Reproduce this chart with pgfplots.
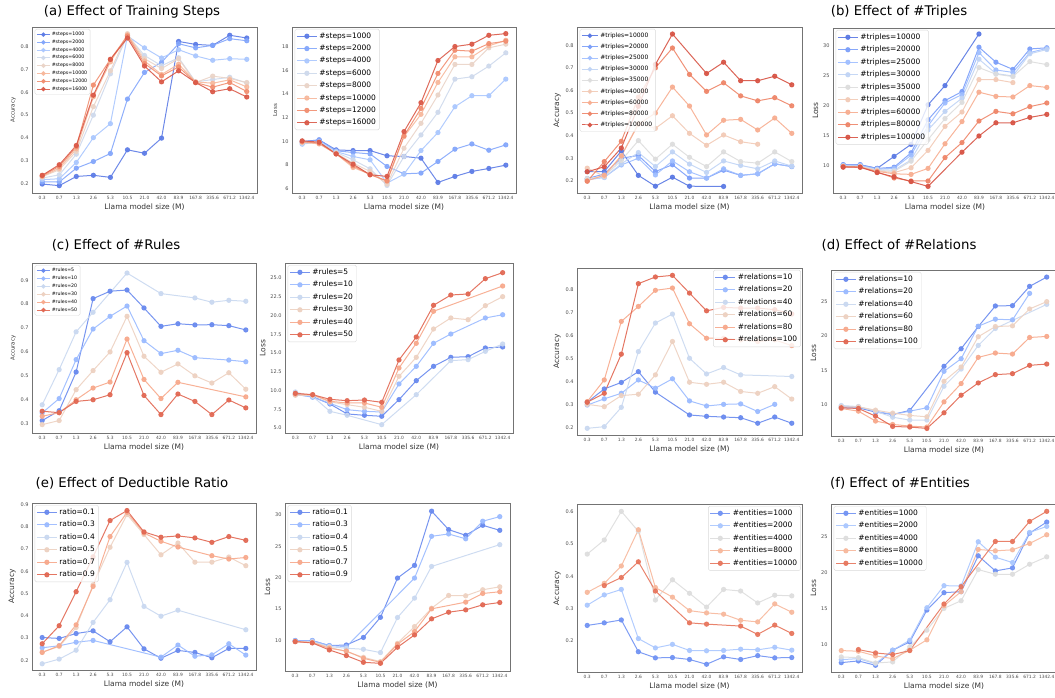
\documentclass[border=0pt]{standalone}
\usepackage{fontspec}
\setmainfont{DejaVu Sans}
\usepackage{pgfplots}
\pgfplotsset{compat=1.18}
% coolwarm samples
\definecolor{ea}{RGB}{93,124,230}
\definecolor{eb}{RGB}{131,166,251}
\definecolor{ec}{RGB}{170,199,254}
\definecolor{ed}{RGB}{206,217,236}
\definecolor{ee}{RGB}{234,212,200}
\definecolor{ef}{RGB}{247,184,156}
\definecolor{eg}{RGB}{241,142,112}
\definecolor{eh}{RGB}{218,89,72}
\definecolor{na}{RGB}{89,120,227}
\definecolor{nb}{RGB}{123,158,249}
\definecolor{nc}{RGB}{159,190,255}
\definecolor{nd}{RGB}{192,212,245}
\definecolor{ne}{RGB}{221,221,221}
\definecolor{nf}{RGB}{242,202,182}
\definecolor{ng}{RGB}{247,173,144}
\definecolor{nh}{RGB}{238,133,104}
\definecolor{ni}{RGB}{215,83,68}
\definecolor{sa}{RGB}{104,137,238}
\definecolor{sb}{RGB}{154,186,255}
\definecolor{sc}{RGB}{201,216,240}
\definecolor{sd}{RGB}{237,209,193}
\definecolor{se}{RGB}{247,168,139}
\definecolor{sf}{RGB}{225,103,82}
\definecolor{fa}{RGB}{112,146,243}
\definecolor{fb}{RGB}{170,199,254}
\definecolor{fc}{RGB}{221,221,221}
\definecolor{fd}{RGB}{247,184,156}
\definecolor{fe}{RGB}{231,117,92}
\pgfplotsset{
  panel/.style={
    scale only axis, anchor=south west,
    xmin=-0.6, xmax=12.6,
    xtick={0,1,...,12},
    xticklabels={0.3,0.7,1.3,2.6,5.3,10.5,21.0,42.0,83.9,167.8,335.6,671.2,1342.4},
    x tick label style={font=\fontsize{4.4}{5}\selectfont, text=black!70},
    y tick label style={font=\fontsize{5}{6}\selectfont, text=black!70},
    /pgf/number format/assume math mode=true,
    major tick length=0pt,
    axis line style={black!55, line width=0.5pt},
    xlabel={Llama model size (M)},
    xlabel style={font=\fontsize{7.5}{9}\selectfont, text=black!80, yshift=3pt},
    ylabel style={text=black!80, yshift=-2pt},
    legend cell align=left,
    legend style={draw=black!15, rounded corners=1.5pt, fill=white, fill opacity=0.8, text opacity=1, inner sep=1.5pt},
    every axis plot/.append style={line width=1pt, mark=*, mark size=2.1pt, mark options={solid}, opacity=0.9},
  },
  acc/.style={ylabel={Accuracy}, yticklabel style={/pgf/number format/fixed, /pgf/number format/fixed zerofill, /pgf/number format/precision=1}},
  loss/.style={ylabel={Loss}},
  bigleg/.style={legend style={font=\fontsize{7.5}{8.8}\selectfont, row sep=1.3pt, nodes={inner sep=2pt}},
    legend image code/.code={\draw[mark repeat=2,mark phase=2,##1] plot coordinates {(0pt,0pt) (10pt,0pt) (20pt,0pt)};}},
  smallleg/.style={legend style={font=\fontsize{4.7}{5.4}\selectfont, row sep=0pt, nodes={inner sep=1.4pt}},
    legend image code/.code={\draw[mark repeat=2,mark phase=2,##1,mark size=1.7pt] plot coordinates {(0pt,0pt) (6.5pt,0pt) (13pt,0pt)};}},
  midleg/.style={legend style={font=\fontsize{6}{7}\selectfont, row sep=1.1pt, nodes={inner sep=2pt}},
    legend image code/.code={\draw[mark repeat=2,mark phase=2,##1,mark size=1.8pt] plot coordinates {(0pt,0pt) (8pt,0pt) (16pt,0pt)};}},
  ul/.style={legend style={at={(0.012,0.988)}, anchor=north west}},
  ur/.style={legend style={at={(0.995,0.988)}, anchor=north east}},
  ylsmall/.style={ylabel style={font=\fontsize{5.5}{6.5}\selectfont}},
  ylbig/.style={ylabel style={font=\fontsize{7.5}{9}\selectfont}},
}
\begin{document}
\begin{tikzpicture}
\useasboundingbox (0pt,0pt) rectangle (1055pt,698pt);
% titles
\node[font=\fontsize{13.3}{15}\selectfont] at (132pt,686pt) {(a) Effect of Training Steps};
\node[font=\fontsize{13.3}{15}\selectfont] at (899pt,686pt) {(b) Effect of \#Triples};
\node[font=\fontsize{13.3}{15}\selectfont] at (116pt,453pt) {(c) Effect of \#Rules};
\node[font=\fontsize{13.3}{15}\selectfont] at (899pt,453pt) {(d) Effect of \#Relations};
\node[font=\fontsize{13.3}{15}\selectfont] at (132pt,215pt) {(e) Effect of Deductible Ratio};
\node[font=\fontsize{13.3}{15}\selectfont] at (900pt,215pt) {(f) Effect of \#Entities};

% ---------------- (a) accuracy
\begin{axis}[panel, acc, ylsmall, smallleg, ul, at={(32pt,505pt)}, width=225pt, height=166pt,
  ymin=0.161, ymax=0.884, ytick={0.2,0.3,...,0.81}]
\addplot[ea] coordinates {(0,0.200)(1,0.193)(2,0.233)(3,0.238)(4,0.229)(5,0.349)(6,0.334)(7,0.400)(8,0.821)(9,0.808)(10,0.804)(11,0.848)(12,0.836)};
\addlegendentry{\#steps=1000}
\addplot[eb] coordinates {(0,0.209)(1,0.209)(2,0.269)(3,0.298)(4,0.333)(5,0.570)(6,0.686)(7,0.730)(8,0.811)(9,0.793)(10,0.804)(11,0.833)(12,0.824)};
\addlegendentry{\#steps=2000}
\addplot[ec] coordinates {(0,0.219)(1,0.223)(2,0.294)(3,0.402)(4,0.463)(5,0.845)(6,0.793)(7,0.749)(8,0.785)(9,0.758)(10,0.739)(11,0.746)(12,0.743)};
\addlegendentry{\#steps=4000}
\addplot[ed] coordinates {(0,0.226)(1,0.240)(2,0.330)(3,0.500)(4,0.680)(5,0.847)(6,0.760)(7,0.715)(8,0.750)(9,0.645)(10,0.655)(11,0.665)(12,0.640)};
\addlegendentry{\#steps=6000}
\addplot[ee] coordinates {(0,0.232)(1,0.262)(2,0.342)(3,0.537)(4,0.693)(5,0.855)(6,0.746)(7,0.703)(8,0.746)(9,0.642)(10,0.670)(11,0.660)(12,0.642)};
\addlegendentry{\#steps=8000}
\addplot[ef] coordinates {(0,0.233)(1,0.269)(2,0.353)(3,0.580)(4,0.732)(5,0.850)(6,0.736)(7,0.677)(8,0.722)(9,0.645)(10,0.639)(11,0.654)(12,0.623)};
\addlegendentry{\#steps=10000}
\addplot[eg] coordinates {(0,0.236)(1,0.277)(2,0.362)(3,0.631)(4,0.743)(5,0.845)(6,0.725)(7,0.671)(8,0.710)(9,0.642)(10,0.622)(11,0.642)(12,0.603)};
\addlegendentry{\#steps=12000}
\addplot[eh] coordinates {(0,0.238)(1,0.284)(2,0.368)(3,0.587)(4,0.743)(5,0.836)(6,0.714)(7,0.645)(8,0.693)(9,0.642)(10,0.602)(11,0.615)(12,0.579)};
\addlegendentry{\#steps=16000}
\end{axis}

% ---------------- (a) loss
\begin{axis}[panel, loss, ylsmall, bigleg, ul, at={(292pt,505pt)}, width=224pt, height=166pt,
  ymin=5.64, ymax=19.65, ytick={6,8,...,18}]
\addplot[ea] coordinates {(0,9.98)(1,10.12)(2,9.28)(3,9.22)(4,9.22)(5,8.78)(6,8.72)(7,8.58)(8,6.53)(9,7.04)(10,7.46)(11,7.71)(12,7.99)};
\addlegendentry{\#steps=1000}
\addplot[eb] coordinates {(0,9.93)(1,10.12)(2,9.20)(3,9.06)(4,8.94)(5,7.88)(6,7.26)(7,7.32)(8,8.30)(9,9.34)(10,9.78)(11,9.25)(12,9.70)};
\addlegendentry{\#steps=2000}
\addplot[ec] coordinates {(0,9.76)(1,9.98)(2,9.14)(3,8.72)(4,8.44)(5,6.48)(6,7.23)(7,9.22)(8,10.74)(9,12.92)(10,13.85)(11,13.85)(12,15.25)};
\addlegendentry{\#steps=4000}
\addplot[ed] coordinates {(0,9.84)(1,9.93)(2,9.08)(3,8.44)(4,7.68)(5,6.28)(6,8.72)(7,10.54)(8,12.45)(9,15.25)(10,15.45)(11,16.35)(12,17.47)};
\addlegendentry{\#steps=6000}
\addplot[ee] coordinates {(0,9.90)(1,9.85)(2,9.00)(3,8.16)(4,7.46)(5,6.39)(6,9.42)(7,11.52)(8,13.91)(9,16.49)(10,16.49)(11,17.89)(12,18.20)};
\addlegendentry{\#steps=8000}
\addplot[ef] coordinates {(0,9.93)(1,9.78)(2,8.94)(3,7.79)(4,7.23)(5,6.62)(6,10.40)(7,12.28)(8,14.97)(9,17.13)(10,17.13)(11,18.06)(12,18.53)};
\addlegendentry{\#steps=10000}
\addplot[eg] coordinates {(0,9.98)(1,9.85)(2,8.94)(3,7.93)(4,7.18)(5,6.67)(6,10.46)(7,12.78)(8,15.73)(9,17.69)(10,17.61)(11,18.25)(12,18.45)};
\addlegendentry{\#steps=12000}
\addplot[eh] coordinates {(0,10.04)(1,9.93)(2,8.94)(3,8.07)(4,7.18)(5,7.04)(6,10.82)(7,13.26)(8,16.82)(9,18.00)(10,18.20)(11,18.95)(12,19.09)};
\addlegendentry{\#steps=16000}
\end{axis}

% ---------------- (b) accuracy
\begin{axis}[panel, acc, ylbig, midleg, ul, at={(577pt,505pt)}, width=225pt, height=166pt,
  ymin=0.146, ymax=0.881, ytick={0.2,0.3,...,0.81}]
\addplot[na] coordinates {(0,0.241)(1,0.241)(2,0.332)(3,0.224)(4,0.176)(5,0.216)(6,0.176)(8,0.175)};
\addlegendentry{\#triples=10000}
\addplot[nb] coordinates {(0,0.210)(1,0.230)(2,0.300)(3,0.312)(4,0.241)(5,0.271)(6,0.212)(7,0.212)(8,0.247)(9,0.224)(10,0.231)(11,0.275)(12,0.263)};
\addlegendentry{\#triples=20000}
\addplot[nc] coordinates {(0,0.205)(1,0.215)(2,0.270)(3,0.300)(4,0.226)(5,0.288)(6,0.240)(7,0.212)(8,0.253)(9,0.224)(10,0.231)(11,0.275)(12,0.263)};
\addlegendentry{\#triples=25000}
\addplot[nd] coordinates {(0,0.205)(1,0.215)(2,0.275)(3,0.325)(4,0.263)(5,0.328)(6,0.274)(7,0.237)(8,0.288)(9,0.268)(10,0.253)(11,0.288)(12,0.265)};
\addlegendentry{\#triples=30000}
\addplot[ne] coordinates {(0,0.210)(1,0.220)(2,0.290)(3,0.378)(4,0.296)(5,0.362)(6,0.304)(7,0.263)(8,0.328)(9,0.285)(10,0.278)(11,0.328)(12,0.285)};
\addlegendentry{\#triples=35000}
\addplot[nf] coordinates {(0,0.256)(1,0.220)(2,0.310)(3,0.455)(4,0.432)(5,0.488)(6,0.410)(7,0.357)(8,0.403)(9,0.373)(10,0.362)};
\addlegendentry{\#triples=40000}
\addplot[ng] coordinates {(0,0.200)(1,0.225)(2,0.310)(3,0.450)(4,0.500)(5,0.615)(6,0.531)(7,0.403)(8,0.468)(9,0.472)(10,0.425)(11,0.478)(12,0.410)};
\addlegendentry{\#triples=60000}
\addplot[nh] coordinates {(0,0.198)(1,0.285)(2,0.375)(3,0.570)(4,0.700)(5,0.788)(6,0.671)(7,0.596)(8,0.634)(9,0.576)(10,0.554)(11,0.568)(12,0.532)};
\addlegendentry{\#triples=80000}
\addplot[ni] coordinates {(0,0.240)(1,0.262)(2,0.345)(3,0.530)(4,0.715)(5,0.850)(7,0.675)(8,0.725)(9,0.643)(10,0.643)(11,0.663)(12,0.625)};
\addlegendentry{\#triples=100000}
\end{axis}

% ---------------- (b) loss
\begin{axis}[panel, loss, ylbig, bigleg, ul, at={(833pt,505pt)}, width=224pt, height=165pt,
  ymin=5.5, ymax=33.0, ytick={10,15,...,30}]
\addplot[na] coordinates {(0,10.2)(1,10.2)(2,9.6)(3,11.6)(4,13.6)(5,20.2)(6,23.4)(8,32.0)};
\addlegendentry{\#triples=10000}
\addplot[nb] coordinates {(0,10.2)(1,10.2)(2,9.6)(3,9.8)(4,12.2)(5,17.7)(6,20.9)(7,22.4)(8,29.8)(9,27.3)(10,26.1)(11,29.5)(12,29.7)};
\addlegendentry{\#triples=20000}
\addplot[nc] coordinates {(0,10.1)(1,10.1)(2,9.5)(3,9.6)(4,11.8)(5,16.7)(6,20.5)(7,21.9)(8,28.9)(9,26.0)(10,25.6)(11,28.9)(12,29.6)};
\addlegendentry{\#triples=25000}
\addplot[nd] coordinates {(0,10.0)(1,10.0)(2,9.4)(3,9.3)(4,11.0)(5,16.0)(6,19.1)(7,21.3)(8,27.8)(9,25.4)(10,25.0)(11,28.7)(12,29.4)};
\addlegendentry{\#triples=30000}
\addplot[ne] coordinates {(0,10.0)(1,9.9)(2,9.3)(3,9.1)(4,10.8)(5,14.4)(6,17.9)(7,20.6)(8,26.4)(9,25.3)(10,24.9)(11,27.4)(12,26.9)};
\addlegendentry{\#triples=35000}
\addplot[nf] coordinates {(0,9.9)(1,9.9)(2,9.2)(3,8.9)(4,9.7)(5,12.6)(6,16.6)(7,19.0)(8,24.4)(9,24.4)(10,23.9)};
\addlegendentry{\#triples=40000}
\addplot[ng] coordinates {(0,9.9)(1,9.8)(2,9.1)(3,8.7)(4,8.6)(5,9.6)(6,13.7)(7,17.4)(8,22.3)(9,21.6)(10,21.5)(11,23.4)(12,23.1)};
\addlegendentry{\#triples=60000}
\addplot[nh] coordinates {(0,9.9)(1,9.8)(2,9.0)(3,8.0)(4,7.5)(5,7.5)(6,11.4)(7,13.9)(8,17.5)(9,19.1)(10,18.7)(11,19.9)(12,20.5)};
\addlegendentry{\#triples=80000}
\addplot[ni] coordinates {(0,9.8)(1,9.8)(2,8.9)(3,8.2)(4,7.4)(5,6.6)(7,12.3)(8,15.0)(9,17.2)(10,17.2)(11,18.1)(12,18.6)};
\addlegendentry{\#triples=100000}
\end{axis}

% ---------------- (c) accuracy
\begin{axis}[panel, acc, ylsmall, smallleg, ul, at={(32pt,265pt)}, width=224pt, height=170pt,
  ymin=0.261, ymax=0.972, ytick={0.3,0.4,...,0.91}]
\addplot[sa] coordinates {(0,0.313)(1,0.354)(2,0.516)(3,0.823)(4,0.854)(5,0.859)(6,0.784)(7,0.707)(8,0.718)(9,0.713)(10,0.714)(11,0.710)(12,0.692)};
\addlegendentry{\#rules=5}
\addplot[sb] coordinates {(0,0.345)(1,0.405)(2,0.568)(3,0.696)(4,0.749)(5,0.792)(6,0.647)(7,0.593)(8,0.607)(9,0.576)(11,0.566)(12,0.559)};
\addlegendentry{\#rules=10}
\addplot[sc] coordinates {(0,0.379)(1,0.526)(2,0.684)(3,0.766)(5,0.930)(7,0.844)(9,0.826)(10,0.808)(11,0.816)(12,0.812)};
\addlegendentry{\#rules=20}
\addplot[sd] coordinates {(0,0.296)(1,0.313)(2,0.442)(3,0.522)(4,0.600)(5,0.749)(6,0.582)(7,0.515)(8,0.550)(9,0.500)(10,0.470)(11,0.513)(12,0.444)};
\addlegendentry{\#rules=30}
\addplot[se] coordinates {(0,0.331)(1,0.346)(2,0.400)(3,0.449)(4,0.474)(5,0.654)(6,0.485)(7,0.405)(8,0.473)(12,0.412)};
\addlegendentry{\#rules=40}
\addplot[sf] coordinates {(0,0.352)(1,0.346)(2,0.393)(3,0.400)(4,0.421)(5,0.597)(6,0.418)(7,0.338)(8,0.424)(9,0.393)(10,0.338)(11,0.399)(12,0.366)};
\addlegendentry{\#rules=50}
\end{axis}

% ---------------- (c) loss
\begin{axis}[panel, loss, ylbig, bigleg, ul, at={(285pt,265pt)}, width=228pt, height=170pt,
  ymin=4.33, ymax=27.0, ytick={5,7.5,...,25.1},
  yticklabel style={/pgf/number format/fixed, /pgf/number format/fixed zerofill, /pgf/number format/precision=1}]
\addplot[sa] coordinates {(0,9.44)(1,9.18)(2,8.20)(3,6.87)(4,6.69)(5,6.56)(6,8.78)(7,11.31)(8,13.22)(9,14.42)(10,14.51)(11,15.67)(12,15.80)};
\addlegendentry{\#rules=5}
\addplot[sb] coordinates {(0,9.53)(1,9.09)(2,8.29)(3,7.44)(4,7.22)(5,7.13)(6,10.87)(7,13.22)(8,16.29)(9,17.53)(11,19.67)(12,20.10)};
\addlegendentry{\#rules=10}
\addplot[sc] coordinates {(0,9.80)(1,9.22)(2,7.22)(3,6.69)(5,5.44)(7,9.44)(9,13.98)(10,14.11)(11,15.22)(12,16.20)};
\addlegendentry{\#rules=20}
\addplot[sd] coordinates {(0,9.36)(1,9.36)(2,8.47)(3,8.11)(4,7.76)(5,7.22)(6,11.89)(7,14.42)(8,18.20)(9,19.67)(10,19.44)(11,21.31)(12,22.51)};
\addlegendentry{\#rules=30}
\addplot[se] coordinates {(0,9.53)(1,9.44)(2,8.56)(3,8.33)(4,8.33)(5,7.76)(6,13.00)(7,16.29)(8,20.56)(12,23.93)};
\addlegendentry{\#rules=40}
\addplot[sf] coordinates {(0,9.62)(1,9.44)(2,8.82)(3,8.64)(4,8.73)(5,8.42)(6,14.07)(7,17.13)(8,21.36)(9,22.73)(10,22.87)(11,24.91)(12,25.71)};
\addlegendentry{\#rules=50}
\end{axis}

% ---------------- (d) accuracy
\begin{axis}[panel, acc, ylbig, bigleg, ur, at={(577pt,263pt)}, width=225pt, height=167pt,
  ymin=0.168, ymax=0.893, ytick={0.2,0.3,...,0.81}]
\addplot[sa] coordinates {(0,0.310)(1,0.368)(2,0.396)(3,0.443)(4,0.354)(6,0.255)(7,0.249)(8,0.246)(9,0.243)(10,0.219)(11,0.246)(12,0.219)};
\addlegendentry{\#relations=10}
\addplot[sb] coordinates {(0,0.298)(1,0.325)(2,0.349)(3,0.407)(4,0.371)(5,0.412)(6,0.316)(7,0.294)(8,0.301)(9,0.303)(10,0.270)(11,0.301)};
\addlegendentry{\#relations=20}
\addplot[sc] coordinates {(0,0.197)(1,0.204)(2,0.288)(3,0.530)(4,0.654)(5,0.693)(6,0.501)(7,0.433)(8,0.461)(9,0.429)(12,0.422)};
\addlegendentry{\#relations=40}
\addplot[sd] coordinates {(0,0.301)(1,0.291)(2,0.339)(3,0.345)(4,0.429)(5,0.574)(6,0.397)(7,0.388)(8,0.397)(9,0.357)(10,0.349)(11,0.378)(12,0.324)};
\addlegendentry{\#relations=60}
\addplot[se] coordinates {(0,0.313)(1,0.407)(2,0.661)(3,0.726)(4,0.796)(5,0.806)(6,0.651)(7,0.588)(8,0.588)(9,0.581)(10,0.574)(11,0.581)(12,0.556)};
\addlegendentry{\#relations=80}
\addplot[sf] coordinates {(0,0.310)(1,0.349)(2,0.519)(3,0.825)(4,0.854)(5,0.861)(6,0.784)(7,0.707)(8,0.722)(9,0.719)(10,0.719)(11,0.712)(12,0.693)};
\addlegendentry{\#relations=100}
\end{axis}

% ---------------- (d) loss
\begin{axis}[panel, loss, ylbig, bigleg, ul, at={(831pt,262pt)}, width=226pt, height=166pt,
  ymin=5.47, ymax=29.6, ytick={10,15,...,25}]
\addplot[sa] coordinates {(0,9.57)(1,9.57)(2,8.94)(3,8.60)(4,9.18)(6,15.60)(7,18.15)(8,21.38)(9,24.37)(10,24.42)(11,27.22)(12,28.57)};
\addlegendentry{\#relations=10}
\addplot[sb] coordinates {(0,9.80)(1,9.70)(2,9.08)(3,8.60)(4,9.08)(5,9.57)(6,14.87)(7,16.70)(8,21.43)(9,22.45)(10,22.35)(11,26.20)};
\addlegendentry{\#relations=20}
\addplot[sc] coordinates {(0,9.90)(1,9.75)(2,9.08)(3,8.20)(4,7.78)(5,7.78)(6,12.70)(7,15.20)(8,18.63)(9,21.10)(12,24.60)};
\addlegendentry{\#relations=40}
\addplot[sd] coordinates {(0,9.70)(1,9.70)(2,9.23)(3,8.80)(4,8.46)(5,8.26)(6,13.42)(7,15.50)(8,19.90)(9,21.38)(10,21.48)(11,23.94)(12,25.00)};
\addlegendentry{\#relations=60}
\addplot[se] coordinates {(0,9.47)(1,9.08)(2,7.64)(3,7.15)(4,6.91)(5,6.77)(6,10.43)(7,13.09)(8,16.90)(9,17.53)(10,17.38)(11,19.79)(12,19.94)};
\addlegendentry{\#relations=80}
\addplot[sf] coordinates {(0,9.57)(1,9.47)(2,8.36)(3,6.86)(4,6.77)(5,6.57)(6,8.84)(7,11.40)(8,13.18)(9,14.39)(10,14.53)(11,15.74)(12,15.93)};
\addlegendentry{\#relations=100}
\end{axis}

% ---------------- (e) accuracy
\begin{axis}[panel, acc, ylbig, bigleg, ul, at={(32pt,28pt)}, width=224pt, height=167pt,
  ymin=0.156, ymax=0.907, ytick={0.2,0.3,...,0.91}]
\addplot[sa] coordinates {(0,0.302)(1,0.298)(2,0.320)(3,0.332)(4,0.283)(5,0.350)(6,0.251)(7,0.209)(8,0.244)(9,0.235)(10,0.211)(11,0.253)(12,0.253)};
\addlegendentry{ratio=0.1}
\addplot[sb] coordinates {(0,0.256)(1,0.265)(2,0.281)(3,0.289)(7,0.214)(8,0.268)(9,0.218)(10,0.224)(11,0.274)(12,0.223)};
\addlegendentry{ratio=0.3}
\addplot[sc] coordinates {(0,0.184)(1,0.205)(2,0.245)(3,0.370)(4,0.472)(5,0.640)(6,0.442)(7,0.398)(8,0.425)(12,0.337)};
\addlegendentry{ratio=0.4}
\addplot[sd] coordinates {(0,0.236)(1,0.262)(2,0.347)(3,0.539)(4,0.708)(5,0.855)(6,0.765)(7,0.674)(8,0.727)(9,0.641)(10,0.641)(11,0.664)(12,0.625)};
\addlegendentry{ratio=0.5}
\addplot[se] coordinates {(0,0.235)(1,0.265)(2,0.359)(3,0.532)(4,0.756)(5,0.865)(6,0.772)(7,0.735)(8,0.709)(10,0.670)(11,0.655)(12,0.662)};
\addlegendentry{ratio=0.7}
\addplot[sf] coordinates {(0,0.274)(1,0.355)(2,0.508)(3,0.665)(4,0.828)(5,0.873)(6,0.777)(7,0.753)(8,0.759)(9,0.750)(10,0.730)(11,0.756)(12,0.739)};
\addlegendentry{ratio=0.9}
\end{axis}

% ---------------- (e) loss
\begin{axis}[panel, loss, ylbig, bigleg, ul, at={(285pt,27pt)}, width=225pt, height=168pt,
  ymin=5.16, ymax=31.9, ytick={10,15,...,30}]
\addplot[sa] coordinates {(0,10.0)(1,10.0)(2,9.2)(3,9.3)(4,10.5)(5,13.7)(6,19.95)(7,21.97)(8,30.6)(9,27.66)(10,26.76)(11,28.35)(12,27.55)};
\addlegendentry{ratio=0.1}
\addplot[sb] coordinates {(0,10.0)(1,10.0)(2,9.2)(3,9.04)(7,19.95)(8,26.6)(9,26.97)(10,26.2)(11,29.0)(12,29.73)};
\addlegendentry{ratio=0.3}
\addplot[sc] coordinates {(0,9.84)(1,9.84)(2,9.04)(3,8.78)(4,8.62)(5,8.09)(6,13.67)(7,16.76)(8,21.8)(12,25.27)};
\addlegendentry{ratio=0.4}
\addplot[sd] coordinates {(0,9.84)(1,9.73)(2,8.94)(3,8.24)(4,7.34)(5,6.65)(6,9.57)(7,12.23)(8,15.16)(9,17.18)(10,17.13)(11,18.09)(12,18.56)};
\addlegendentry{ratio=0.5}
\addplot[se] coordinates {(0,9.84)(1,9.68)(2,8.78)(3,8.35)(4,7.18)(5,6.54)(6,9.41)(7,11.44)(8,15.05)(10,16.12)(11,17.5)(12,17.77)};
\addlegendentry{ratio=0.7}
\addplot[sf] coordinates {(0,9.84)(1,9.63)(2,8.51)(3,7.61)(4,6.54)(5,6.38)(6,8.94)(7,10.9)(8,13.46)(9,14.52)(10,14.89)(11,15.69)(12,16.06)};
\addlegendentry{ratio=0.9}
\end{axis}

% ---------------- (f) accuracy
\begin{axis}[panel, acc, ylbig, bigleg, ur, at={(577pt,26pt)}, width=225pt, height=168pt,
  ymin=0.102, ymax=0.625, ytick={0.2,0.3,...,0.61}]
\addplot[fa] coordinates {(0,0.247)(1,0.255)(2,0.264)(3,0.165)(4,0.146)(5,0.147)(6,0.141)(7,0.126)(8,0.149)(9,0.141)(10,0.153)(11,0.146)(12,0.147)};
\addlegendentry{\#entities=1000}
\addplot[fb] coordinates {(0,0.310)(1,0.342)(2,0.359)(3,0.206)(4,0.177)(5,0.188)(6,0.169)(7,0.168)(8,0.169)(9,0.173)(10,0.171)(11,0.179)(12,0.170)};
\addlegendentry{\#entities=2000}
\addplot[fc] coordinates {(0,0.469)(1,0.513)(2,0.602)(3,0.540)(4,0.326)(5,0.389)(6,0.347)(7,0.304)(8,0.359)(9,0.354)(10,0.317)(11,0.341)(12,0.339)};
\addlegendentry{\#entities=4000}
\addplot[fd] coordinates {(0,0.350)(1,0.378)(2,0.432)(3,0.545)(4,0.365)(5,0.335)(6,0.293)(7,0.286)(8,0.282)(9,0.263)(10,0.258)(11,0.314)(12,0.288)};
\addlegendentry{\#entities=8000}
\addplot[fe] coordinates {(1,0.371)(2,0.396)(3,0.445)(4,0.354)(6,0.255)(7,0.251)(9,0.245)(10,0.219)(11,0.248)(12,0.222)};
\addlegendentry{\#entities=10000}
\end{axis}

% ---------------- (f) loss
\begin{axis}[panel, loss, ylbig, bigleg, ul, at={(831pt,26pt)}, width=226pt, height=168pt,
  ymin=6.11, ymax=29.64, ytick={10,15,...,25}]
\addplot[fa] coordinates {(0,7.42)(1,7.66)(2,7.05)(3,9.16)(4,10.33)(5,14.78)(6,17.22)(7,17.36)(8,22.38)(9,20.27)(10,20.69)(11,25.56)(12,27.11)};
\addlegendentry{\#entities=1000}
\addplot[fb] coordinates {(0,7.84)(1,7.98)(2,7.28)(3,9.16)(4,10.56)(5,15.11)(6,18.20)(7,18.16)(8,24.35)(9,22.19)(10,21.44)(11,25.66)(12,26.50)};
\addlegendentry{\#entities=2000}
\addplot[fc] coordinates {(0,8.22)(1,8.12)(2,7.37)(3,7.52)(4,9.63)(5,11.97)(6,15.02)(7,16.09)(8,20.45)(9,19.80)(10,19.80)(11,21.20)(12,22.24)};
\addlegendentry{\#entities=4000}
\addplot[fd] coordinates {(0,9.11)(1,9.02)(2,8.36)(3,7.98)(4,9.16)(5,10.61)(6,15.39)(7,17.36)(8,23.27)(9,23.08)(10,23.22)(11,24.11)(12,25.33)};
\addlegendentry{\#entities=8000}
\addplot[fe] coordinates {(1,9.25)(2,8.78)(3,8.55)(4,9.11)(6,15.63)(7,18.06)(9,24.39)(10,24.39)(11,27.20)(12,28.61)};
\addlegendentry{\#entities=10000}
\end{axis}
\end{tikzpicture}
\end{document}
